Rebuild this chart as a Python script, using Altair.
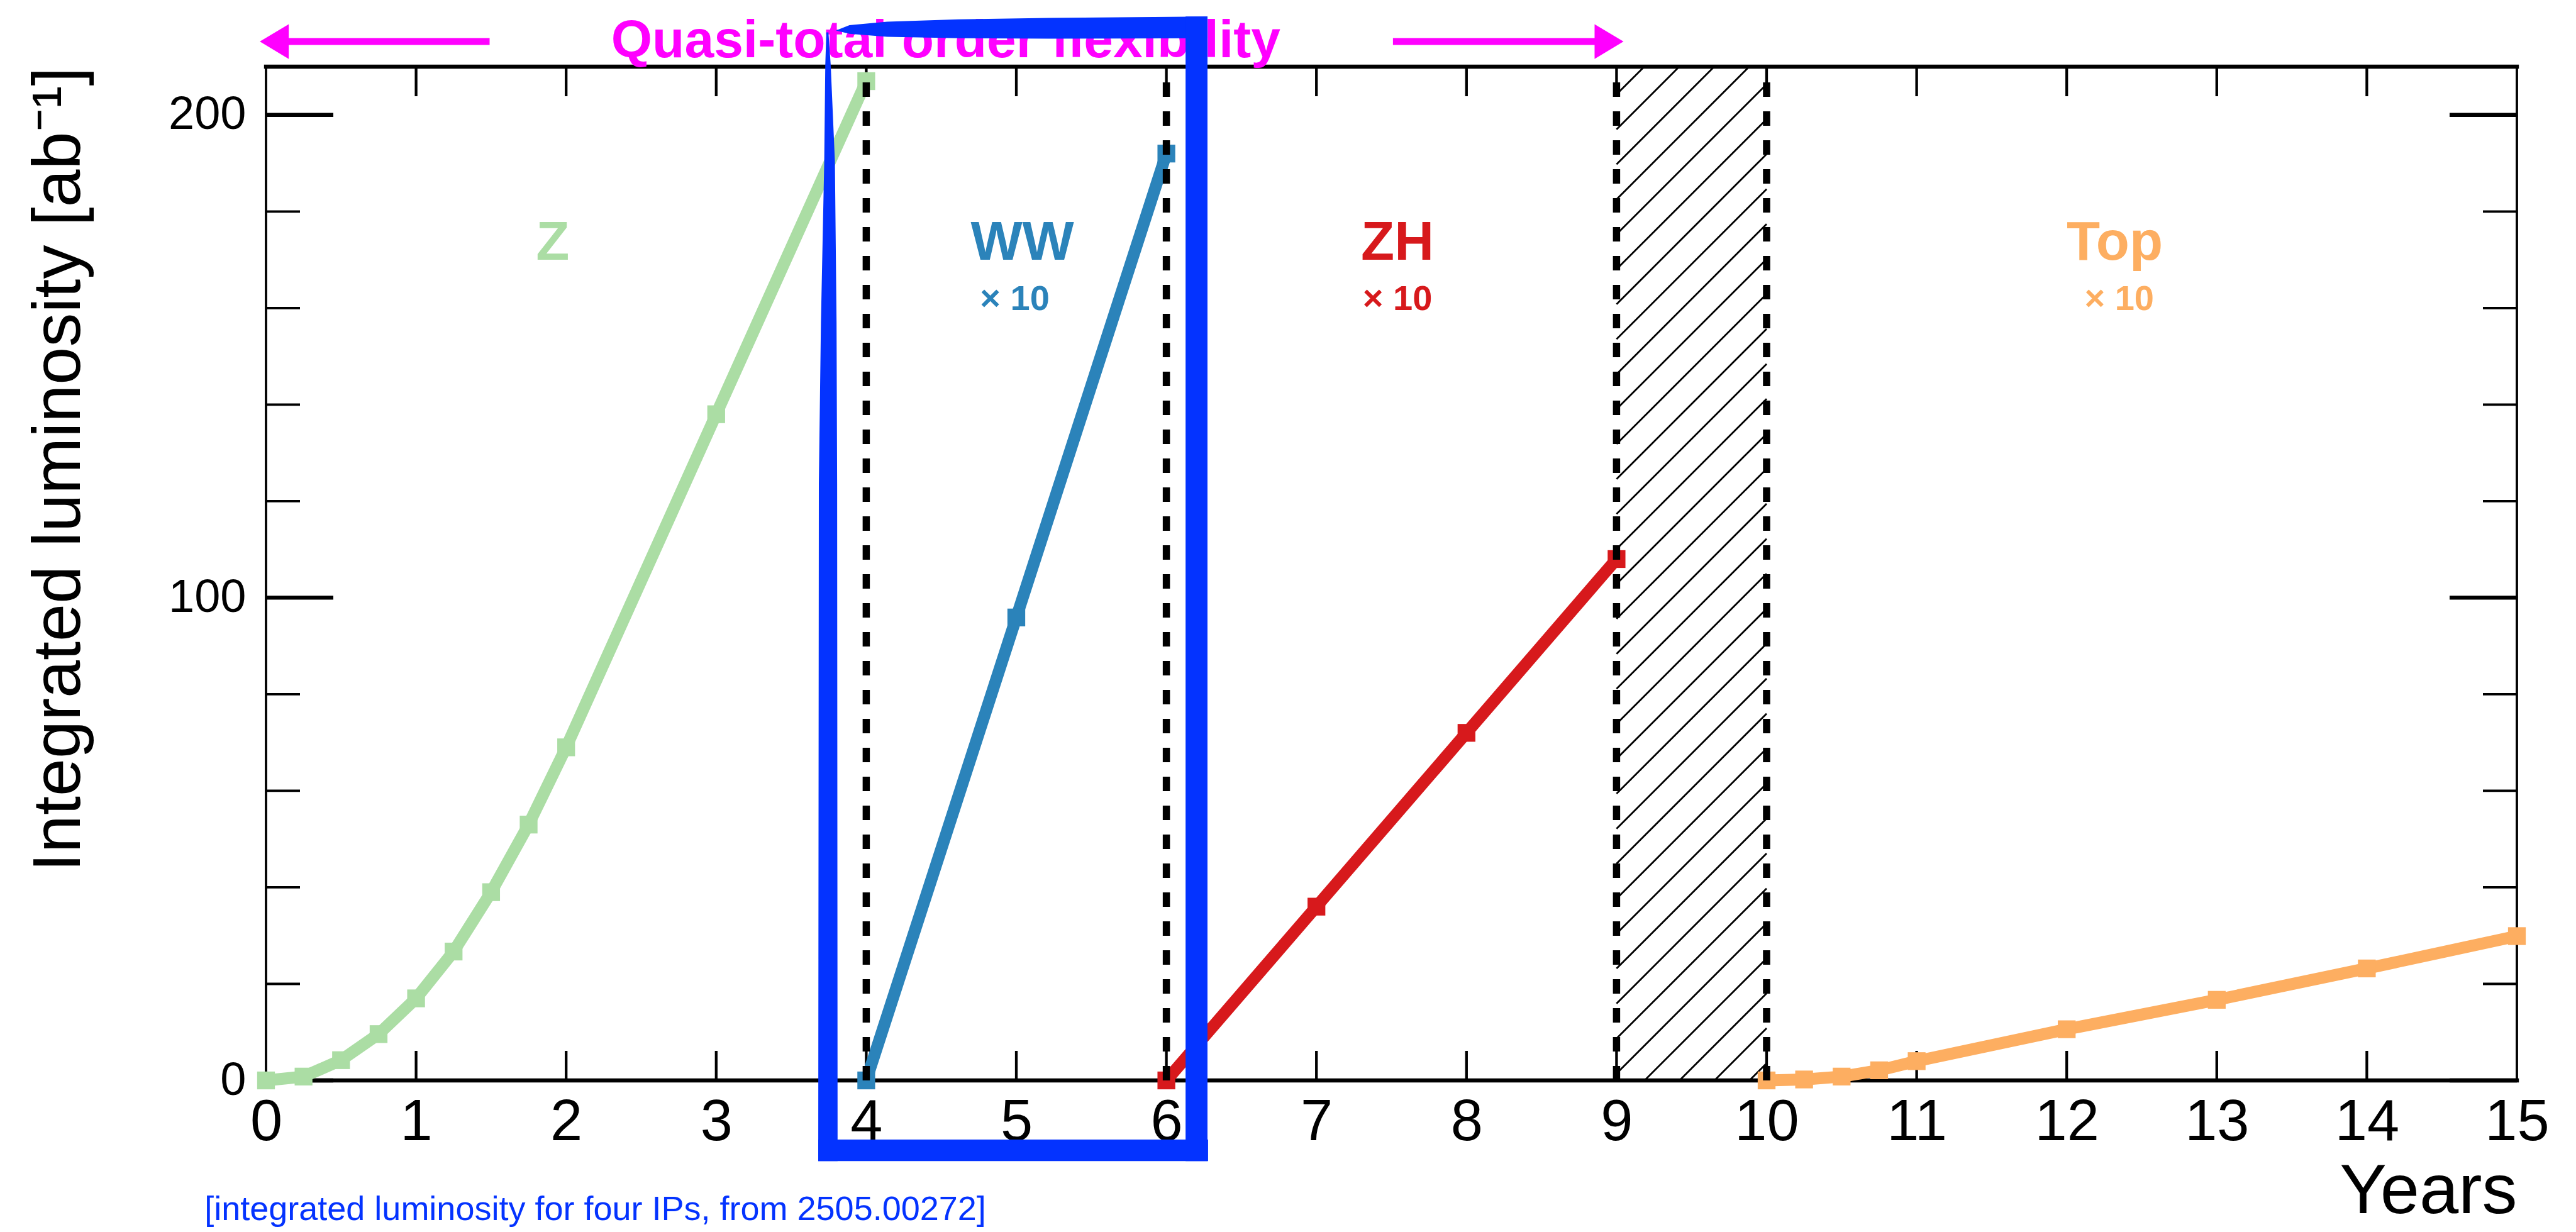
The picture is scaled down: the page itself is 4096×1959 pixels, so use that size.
import math

import altair as alt
import pandas as pd

# ---------------------------------------------------------------- data
# Integrated luminosity per stage [ab^-1]; WW, ZH and Top are drawn x10
z_years = [0, 0.25, 0.5, 0.75, 1, 1.25, 1.5, 1.75, 2, 3, 4]
z_lumi = [0, 0.8, 4.2, 9.6, 17.0, 26.7, 39.0, 53.0, 69.0, 138.0, 207.0]
ww_years = [4, 5, 6]
ww_lumi = [0, 95.9, 192.0]
zh_years = [6, 7, 8, 9]
zh_lumi = [0, 36.0, 72.0, 108.0]
top_years = [10, 10.25, 10.5, 10.75, 11, 12, 13, 14, 15]
top_lumi = [0, 0.2, 0.8, 2.1, 4.0, 10.6, 16.7, 23.2, 29.9]

series_names = ["Z", "WW", "ZH", "Top"]
series_colors = ["#abdda4", "#2b83ba", "#d7191c", "#fdae61"]

# stage boundaries (dashed) and the shutdown year (hatched)
boundaries = [4, 6, 9, 10]
shutdown = [9, 10]

x_ticks = list(range(16))
y_major = [0, 100, 200]
y_minor = [20, 40, 60, 80, 120, 140, 160, 180]

# stage labels
label_text = ["Z", "WW", "× 10", "ZH", "× 10", "Top", "× 10"]
label_x = [1.91, 5.04, 4.99, 7.54, 7.54, 12.32, 12.35]
label_y = [170.0, 170.0, 159.6, 170.0, 159.6, 170.0, 159.6]
label_series = ["Z", "WW", "WW", "ZH", "ZH", "Top", "Top"]
label_size = [87, 87, 56, 87, 56, 87, 56]

banner_text = "Quasi-total order flexibility"
banner_x, banner_y = 4.53, 211.9
arrow_y = 215.2
arrow_left = [1.49, 0.15]
arrow_right = [7.51, 8.86]
head_left_x, head_right_x = 0.055, 8.95

note_text = "[integrated luminosity for four IPs, from 2505.00272]"
note_x, note_y = -0.41, -28.9

# hand-drawn highlight around the WW stage
box_top_x = [3.798, 3.888, 4.139, 4.615, 5.214, 6.274]
box_top_hi = [217.5, 218.6, 219.3, 219.8, 220.1, 220.4]
box_top_lo = [217.5, 216.8, 216.2, 215.9, 215.8, 215.9]
box_left_y = [217.1, 210.4, 190.4, 157.0, 123.6, -16.7]
box_left_lo = [3.734, 3.727, 3.720, 3.698, 3.684, 3.680]
box_left_hi = [3.748, 3.763, 3.791, 3.802, 3.806, 3.809]
box_right = [6.128, 6.274, -16.7, 220.4]
box_bottom = [3.680, 6.278, -16.7, -12.25]

# ---------------------------------------------------------------- layout
FONT = "Liberation Sans"
PLOT_W, PLOT_H = 3579, 1612
X_MAX, Y_MAX = 15, 210
PX_X = PLOT_W / X_MAX
PX_Y = PLOT_H / Y_MAX
BLUE = "#0433ff"
MAGENTA = "#ff00ff"

xs = alt.Scale(domain=[0, X_MAX], nice=False, zero=False)
ys = alt.Scale(domain=[0, Y_MAX], nice=False, zero=False)

x_axis = alt.Axis(
    values=x_ticks, format="d", ticks=False, tickSize=0, domain=False, grid=False,
    labelFont=FONT, labelFontSize=92, labelColor="black", labelPadding=94,
    labelBaseline="alphabetic", labelFlush=False, labelOverlap=False, labelBound=False,
    title="Years", titleFont=FONT, titleFontSize=112, titleFontWeight="normal",
    titleColor="black", titleX=PLOT_W, titleY=210, titleAlign="right",
    titleBaseline="alphabetic", titleAnchor="end",
)
y_axis = alt.Axis(
    values=y_major, format="d", ticks=False, tickSize=0, domain=False, grid=False,
    labelFont=FONT, labelFontSize=74, labelColor="black", labelPadding=32,
    labelFlush=False, labelOverlap=False,
    title="Integrated luminosity [ab⁻¹]", titleFont=FONT, titleFontSize=108,
    titleFontWeight="normal", titleColor="black", titleAngle=270,
    titleX=-296.7, titleY=0, titleAlign="right", titleBaseline="alphabetic",
)


def X(f):
    return alt.X(f, type="quantitative", scale=xs, axis=x_axis)


def Y(f):
    return alt.Y(f, type="quantitative", scale=ys, axis=y_axis)


# frame
frame_df = pd.DataFrame({
    "x": [0, 0, 0, X_MAX], "x2": [X_MAX, X_MAX, 0, X_MAX],
    "y": [0, Y_MAX, 0, 0], "y2": [0, Y_MAX, Y_MAX, Y_MAX],
    "w": [6.4, 6.4, 3.8, 3.8],
})
frame = alt.Chart(frame_df).mark_rule(color="black", strokeCap="square").encode(
    x=X("x"), x2="x2", y=Y("y"), y2="y2",
    strokeWidth=alt.StrokeWidth("w:Q", scale=None, legend=None),
)

# inward ticks on all four sides
xt_len = 47 / PX_Y
rows = []
for t in x_ticks[1:-1]:
    rows.append((t, t, 0, xt_len, 4.3))
    rows.append((t, t, Y_MAX - xt_len, Y_MAX, 4.3))
for v in y_major + y_minor:
    major = v in y_major
    ln = (107 if major else 54) / PX_X
    w = 6.4 if major else 3.8
    rows.append((0, ln, v, v, w))
    rows.append((X_MAX - ln, X_MAX, v, v, w))
ticks_df = pd.DataFrame(rows, columns=["x", "x2", "y", "y2", "w"])
ticks = alt.Chart(ticks_df).mark_rule(color="black").encode(
    x=X("x"), x2="x2", y=Y("y"), y2="y2",
    strokeWidth=alt.StrokeWidth("w:Q", scale=None, legend=None),
)

# hatched shutdown year: 45 degree lines clipped to the band
gap, phase = 55.6, 44.5
band_w = (shutdown[1] - shutdown[0]) * PX_X
segs = []
c = phase - gap * math.ceil(PLOT_H / gap)
while c < band_w:
    p0 = max(0.0, -c)
    p1 = min(float(PLOT_H), band_w - c)
    if p1 > p0:
        segs.append((shutdown[0] + (c + p0) / PX_X, p0 / PX_Y,
                     shutdown[0] + (c + p1) / PX_X, p1 / PX_Y))
    c += gap
hatch_df = pd.DataFrame(segs, columns=["x", "y", "x2", "y2"])
hatch = alt.Chart(hatch_df).mark_rule(color="black", strokeWidth=2.8).encode(
    x=X("x"), y=Y("y"), x2="x2", y2="y2"
)

# luminosity curves
curve_rows = []
for name, yrs, vals in [("Z", z_years, z_lumi), ("WW", ww_years, ww_lumi),
                        ("ZH", zh_years, zh_lumi), ("Top", top_years, top_lumi)]:
    for a, b in zip(yrs, vals):
        curve_rows.append((name, a, b))
curves_df = pd.DataFrame(curve_rows, columns=["series", "year", "lumi"])
color = alt.Color("series:N", scale=alt.Scale(domain=series_names, range=series_colors),
                  legend=None)
lines = alt.Chart(curves_df).mark_line(strokeWidth=19).encode(
    x=X("year"), y=Y("lumi"), color=color, order="year:Q"
)
points = alt.Chart(curves_df).mark_square(size=800, opacity=1, filled=True).encode(
    x=X("year"), y=Y("lumi"), color=color
)

# stage boundaries
dash_df = pd.DataFrame({"x": boundaries, "y": [0] * 4, "y2": [Y_MAX] * 4})
dashes = alt.Chart(dash_df).mark_rule(
    color="black", strokeWidth=11.5, strokeDash=[23, 23]
).encode(x=X("x"), y=Y("y"), y2="y2")

# stage labels
labels_df = pd.DataFrame({"x": label_x, "y": label_y, "text": label_text,
                          "series": label_series, "size": label_size})
labels = alt.Chart(labels_df).mark_text(
    font=FONT, fontWeight="bold", align="center", baseline="alphabetic"
).encode(
    x=X("x"), y=Y("y"), text="text:N", color=color,
    size=alt.Size("size:Q", scale=None, legend=None),
)

# banner with arrows
banner = alt.Chart(pd.DataFrame({"x": [banner_x], "y": [banner_y], "t": [banner_text]})).mark_text(
    font=FONT, fontWeight="bold", fontSize=84, color=MAGENTA,
    align="center", baseline="alphabetic",
).encode(x=X("x"), y=Y("y"), text="t:N")

shaft_df = pd.DataFrame({"x": [arrow_left[0], arrow_right[0]],
                         "x2": [arrow_left[1], arrow_right[1]],
                         "y": [arrow_y, arrow_y]})
shafts = alt.Chart(shaft_df).mark_rule(color=MAGENTA, strokeWidth=11).encode(
    x=X("x"), x2="x2", y=Y("y")
)
head_l = alt.Chart(pd.DataFrame({"x": [head_left_x], "y": [arrow_y]})).mark_point(
    shape="M-1,0L1,-1.2L1,1.2Z", size=2116, filled=True, opacity=1,
    color=MAGENTA, strokeWidth=0,
).encode(x=X("x"), y=Y("y"))
head_r = alt.Chart(pd.DataFrame({"x": [head_right_x], "y": [arrow_y]})).mark_point(
    shape="M1,0L-1,-1.2L-1,1.2Z", size=2116, filled=True, opacity=1,
    color=MAGENTA, strokeWidth=0,
).encode(x=X("x"), y=Y("y"))

note = alt.Chart(pd.DataFrame({"x": [note_x], "y": [note_y], "t": [note_text]})).mark_text(
    font=FONT, fontSize=54, color=BLUE, align="left", baseline="alphabetic"
).encode(x=X("x"), y=Y("y"), text="t:N")

# highlight box
top_df = pd.DataFrame({"x": box_top_x, "hi": box_top_hi, "lo": box_top_lo})
box_top = alt.Chart(top_df).mark_area(color=BLUE, opacity=1).encode(
    x=X("x"), y=Y("hi"), y2="lo"
)
left_df = pd.DataFrame({"y": box_left_y, "lo": box_left_lo, "hi": box_left_hi})
box_left = alt.Chart(left_df).mark_area(color=BLUE, opacity=1, orient="horizontal").encode(
    y=Y("y"), x=X("lo"), x2="hi"
)
rect_df = pd.DataFrame([box_right, box_bottom], columns=["x", "x2", "y", "y2"])
box_rects = alt.Chart(rect_df).mark_rect(color=BLUE, opacity=1).encode(
    x=X("x"), x2="x2", y=Y("y"), y2="y2"
)

chart = alt.layer(
    frame, ticks, hatch, lines, points, dashes, labels, banner, shafts,
    head_l, head_r, note, box_top, box_left, box_rects,
).properties(
    width=PLOT_W, height=PLOT_H,
    padding={"left": 423, "top": 106, "right": 94, "bottom": 241},
    autosize=alt.AutoSizeParams(type="none"),
    background="white",
).configure_view(stroke=None)

chart.save("out.html", embed_options={"renderer": "svg", "actions": False})
